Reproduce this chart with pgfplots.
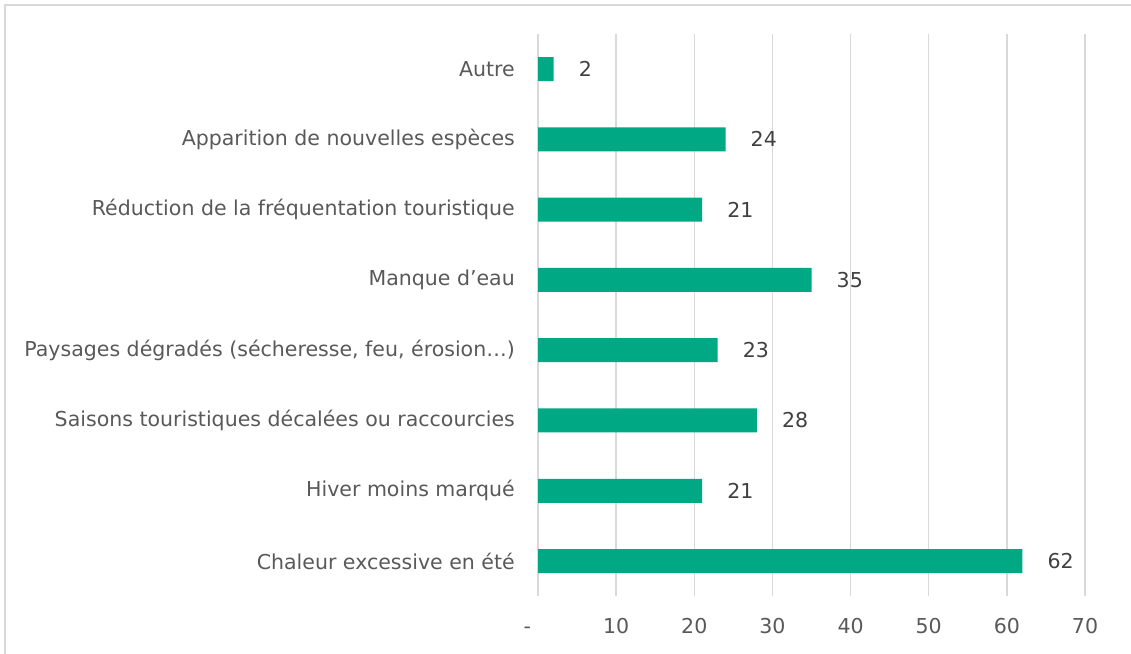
\documentclass[border=0pt]{standalone}
\usepackage{pgfplots}
\pgfplotsset{compat=1.18}
\usepackage{fontspec}
\setmainfont{DejaVu Sans}
\definecolor{barc}{RGB}{0,168,132}
\definecolor{gridc}{RGB}{217,217,217}
\definecolor{labc}{RGB}{89,89,89}
\definecolor{datc}{RGB}{64,64,64}
\begin{document}
\begin{tikzpicture}[x=1bp,y=1bp]
\path[use as bounding box] (0,0) rectangle (1131,654);
\draw[gridc, line width=1.5bp] (5,0) -- (5,649) -- (1131,649);
\begin{axis}[
  at={(538bp,57.8bp)}, anchor=south west,
  scale only axis, width=547bp, height=562.3bp,
  xbar, bar width=24bp,
  xmin=0, xmax=70, ymin=-0.5, ymax=7.5,
  ytick={0,...,7},
  yticklabels={Chaleur excessive en été, Hiver moins marqué, Saisons touristiques décalées ou raccourcies, {Paysages dégradés (sécheresse, feu, érosion…)}, Manque d’eau, Réduction de la fréquentation touristique, Apparition de nouvelles espèces, Autre},
  xtick={0,10,...,70},
  xticklabels={\llap{-\hspace{7bp}}\vphantom{0},10,20,30,40,50,60,70},
  xmajorgrids, grid style={gridc, line width=1.3bp},
  axis line style={draw=none},
  major tick length=0pt,
  /pgf/number format/assume math mode=true,
  tick label style={font=\fontsize{20.6}{24}\selectfont, text=labc, inner sep=0pt},
  yticklabel style={xshift=-23bp},
  xticklabel style={yshift=-22bp},
  nodes near coords,
  nodes near coords style={anchor=west, inner sep=0pt, xshift=25bp, text=datc, font=\fontsize{20.6}{24}\selectfont},
  clip=false,
]
\addplot[fill=barc, draw=none] coordinates {(62,0) (21,1) (28,2) (23,3) (35,4) (21,5) (24,6) (2,7)};
\end{axis}
\end{tikzpicture}
\end{document}
